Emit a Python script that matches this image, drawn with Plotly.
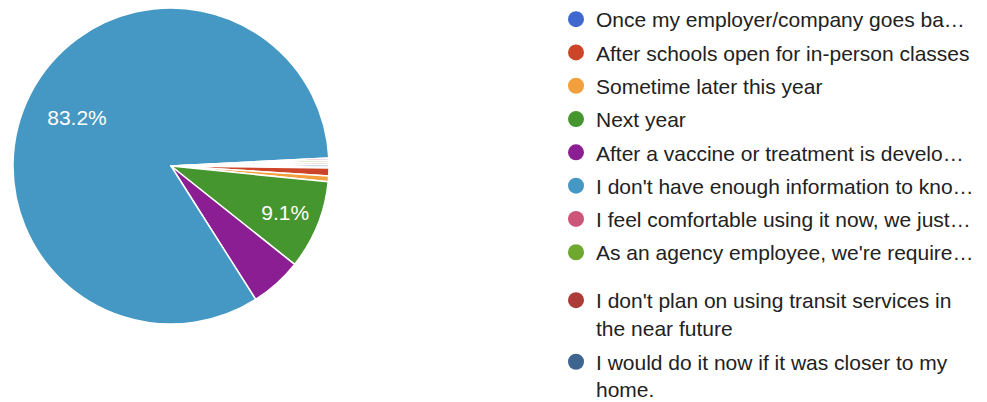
import plotly.graph_objects as go

categories = [
    "Once my employer/company goes ba…",
    "After schools open for in-person classes",
    "Sometime later this year",
    "Next year",
    "After a vaccine or treatment is develo…",
    "I don't have enough information to kno…",
    "I feel comfortable using it now, we just…",
    "As an agency employee, we're require…",
    "I don't plan on using transit services in<br>the near future",
    "I would do it now if it was closer to my<br>home.",
]
percentages = [0.2, 0.8, 0.6, 9.1, 5.3, 83.2, 0.2, 0.2, 0.2, 0.2]
colors = ["#3f69cf", "#cc4528", "#f2a03d", "#46962f", "#8b1e92",
          "#4498c3", "#cc5679", "#6fa82e", "#ad3b38", "#3e6490"]

labels_text = [f"{v:.1f}%" if v >= 8 else "" for v in percentages]

W, H = 987, 402
# the page body adds an 8px offset, so aim 8px up-left of the target centre
cx, cy, r = 163, 158, 158
FONT = "Liberation Sans, Arial"
dom = dict(x=[(cx - r) / W, (cx + r) / W],
           y=[(H - cy - r) / H, (H - cy + r) / H])

fig = go.Figure()
# filled pie
fig.add_trace(go.Pie(
    labels=categories,
    values=percentages,
    textinfo="none",
    marker=dict(colors=colors, line=dict(color="white", width=1.5)),
    sort=False,
    direction="clockwise",
    rotation=90,
    showlegend=False,
    hoverinfo="label+percent",
    domain=dom,
))
# transparent ring carrying the percentage labels
fig.add_trace(go.Pie(
    labels=categories,
    values=percentages,
    text=labels_text,
    textinfo="text",
    textposition="inside",
    insidetextorientation="horizontal",
    insidetextfont=dict(family=FONT, size=21, color="white"),
    marker=dict(colors=["rgba(0,0,0,0)"] * len(categories),
                line=dict(width=0)),
    hole=0.34,
    sort=False,
    direction="clockwise",
    rotation=90,
    showlegend=False,
    hoverinfo="skip",
    domain=dom,
))

for i, (cat, col) in enumerate(zip(categories, colors)):
    fig.add_trace(go.Scatter(
        x=[None], y=[None], mode="markers", name=cat,
        legend="legend" if i < 8 else "legend2",
        legendgroup=f"g{i}",
        marker=dict(symbol="circle", size=16, color=col),
        showlegend=True, hoverinfo="skip",
    ))

legend_common = dict(
    xanchor="left", yanchor="top",
    font=dict(family=FONT, size=21, color="#222222"),
    valign="top",
    itemsizing="trace",
    bgcolor="rgba(0,0,0,0)",
    maxheight=400,
)

fig.update_layout(
    width=W, height=H,
    margin=dict(l=0, r=0, t=0, b=0, autoexpand=False),
    paper_bgcolor="white",
    plot_bgcolor="white",
    xaxis=dict(visible=False),
    yaxis=dict(visible=False),
    legend=dict(x=548 / W, y=1 + 9 / H, tracegroupgap=3.0, **legend_common),
    legend2=dict(x=548 / W, y=1 - 272 / H, tracegroupgap=4, **legend_common),
)

fig.write_html("out.html")
